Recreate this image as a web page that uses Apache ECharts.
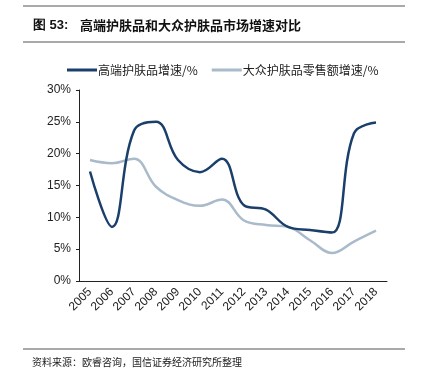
<!DOCTYPE html>
<html>
<head>
<meta charset="utf-8">
<script src="https://cdn.jsdelivr.net/npm/echarts@6/dist/echarts.min.js"></script>
<style>
  html, body { margin: 0; padding: 0; background: #fff; }
  #chart { width: 421px; height: 382px; }
</style>
</head>
<body>
<div id="chart"></div>
<script>
// years on the x axis
var years = ['2005', '2006', '2007', '2008', '2009', '2010', '2011', '2012', '2013', '2014', '2015', '2016', '2017', '2018'];
// high-end skincare growth, %
var highEnd = [17.2, 8.5, 23.6, 25.0, 19.0, 17.1, 19.2, 11.9, 11.2, 8.5, 8.0, 7.6, 23.2, 24.9];
// mass skincare retail growth, %
var mass = [19.0, 18.5, 19.2, 14.8, 12.7, 11.8, 12.8, 9.5, 8.8, 8.5, 6.4, 4.4, 6.2, 7.9];

var names = ['高端护肤品增速/%', '大众护肤品零售额增速/%'];
var cjk = '"Noto Sans CJK SC", sans-serif';
var lat = '"Liberation Sans", Arial, sans-serif';

var chart = echarts.init(document.getElementById('chart'));

chart.setOption({
  animation: false,
  color: ['#1B3F6B', '#A9BACB'],
  grid: { left: 79, right: 34, top: 90, bottom: 101 },
  legend: {
    top: 59,
    left: 62,
    itemWidth: 30,
    itemHeight: 3,
    itemGap: 14,
    icon: 'rect',
    textStyle: { fontFamily: cjk, fontSize: 12, color: '#222', padding: [0, 0, 0, -4] },
    data: names
  },
  graphic: [
    { type: 'line', shape: { x1: 23, y1: 6, x2: 405, y2: 6 }, style: { stroke: '#555', lineWidth: 1 } },
    { type: 'text', left: 33, top: 19, style: { text: '图 53:', font: 'bold 13px ' + lat, fill: '#111' } },
    { type: 'text', left: 80, top: 19, style: { text: '高端护肤品和大众护肤品市场增速对比', font: 'bold 13px ' + cjk, fill: '#111' } },
    { type: 'line', shape: { x1: 23, y1: 42, x2: 405, y2: 42 }, style: { stroke: '#555', lineWidth: 1 } },
    { type: 'line', shape: { x1: 23, y1: 349, x2: 405, y2: 349 }, style: { stroke: '#555', lineWidth: 1 } },
    { type: 'text', left: 32, top: 357, style: { text: '资料来源：欧睿咨询，国信证券经济研究所整理', font: '10px ' + cjk, fill: '#222' } }
  ],
  xAxis: {
    type: 'category',
    data: years,
    boundaryGap: true,
    axisLine: { lineStyle: { color: '#222', width: 1 } },
    axisTick: { inside: true, length: 3, lineStyle: { color: '#222' } },
    axisLabel: { rotate: 45, fontFamily: lat, fontSize: 12, color: '#222', margin: 9, interval: 0 }
  },
  yAxis: {
    type: 'value',
    min: 0,
    max: 30,
    interval: 5,
    splitLine: { show: false },
    axisLine: { show: true, lineStyle: { color: '#222', width: 1 } },
    axisTick: { show: true, length: 3, lineStyle: { color: '#222' } },
    axisLabel: { formatter: '{value}%', fontFamily: lat, fontSize: 12, color: '#222', margin: 8 }
  },
  series: [
    {
      name: names[0],
      type: 'line',
      data: highEnd,
      smooth: 0.4,
      showSymbol: false,
      lineStyle: { width: 2.5 },
      z: 3
    },
    {
      name: names[1],
      type: 'line',
      data: mass,
      smooth: 0.4,
      showSymbol: false,
      lineStyle: { width: 2.5 },
      z: 2
    }
  ]
});
</script>
</body>
</html>
